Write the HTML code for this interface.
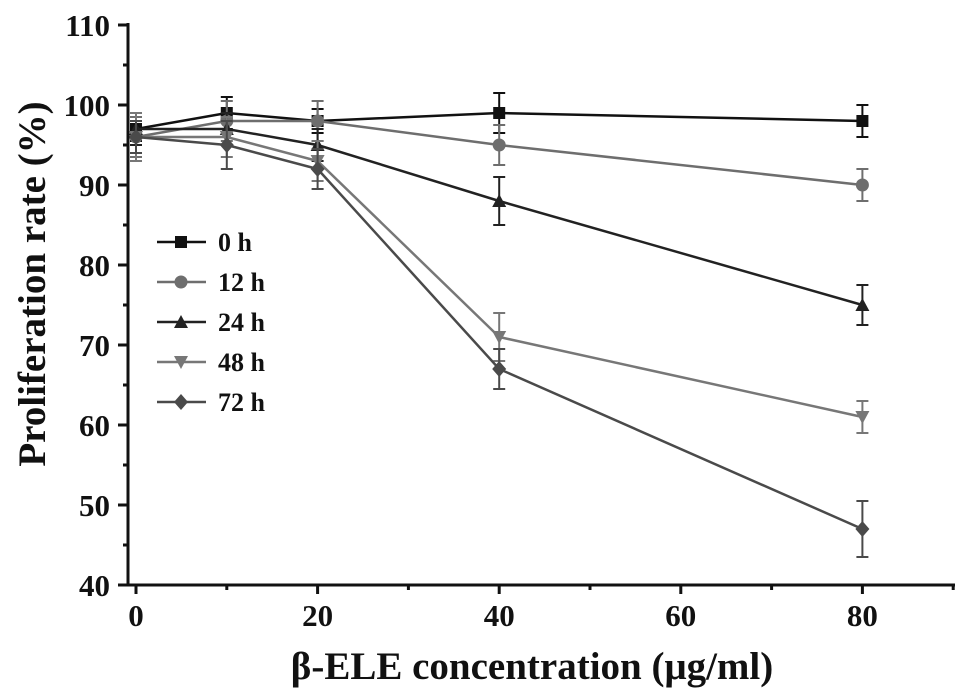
<!DOCTYPE html>
<html><head><meta charset="utf-8"><style>
body{margin:0;background:#fff;}
text{font-family:"Liberation Serif",serif;font-weight:bold;fill:#111;}
</style></head><body>
<svg id="chart" width="969" height="692" xmlns="http://www.w3.org/2000/svg"></svg>
<script>
const xValues=[0,10,20,40,80];
const seriesNames=["0 h","12 h","24 h","48 h","72 h"];
const s0=[97,99,98,99,98];
const s12=[96,98,98,95,90];
const s24=[97,97,95,88,75];
const s48=[96,96,93,71,61];
const s72=[96,95,92,67,47];
const e0=[1.5,2,1.5,2.5,2];
const e12=[2.5,2.5,2.5,2.5,2];
const e24=[2,2,2,3,2.5];
const e48=[3,2.5,2.5,3,2];
const e72=[2,3,2.5,2.5,3.5];
const xTicks=[0,20,40,60,80];
const yTicks=[40,50,60,70,80,90,100,110];
const seriesVals=[s0,s12,s24,s48,s72];
const seriesErr=[e0,e12,e24,e48,e72];
const colors=["#111","#6e6e6e","#222","#777","#4a4a4a"];
const markers=["square","circle","tri","tridown","diamond"];
const NS="http://www.w3.org/2000/svg";
const svg=document.getElementById('chart');
const X=v=>136+(v)*9.08;
const Y=v=>585-(v-40)*8;
function el(t,a,p){const e=document.createElementNS(NS,t);for(const k in a)e.setAttribute(k,a[k]);(p||svg).appendChild(e);return e;}
let ax=el('line',{x1:128,y1:585,x2:955,y2:585,stroke:'#111','stroke-width':3});


let ay=el('line',{x1:128,y1:585,x2:128,y2:23,stroke:'#111','stroke-width':3});


for(let v=0;v<=90;v+=10){const maj=v%20==0;el('line',{x1:X(v),y1:585,x2:X(v),y2:585+(maj?9:5),stroke:'#111','stroke-width':3});}
xTicks.forEach(v=>{const t=el('text',{x:X(v),y:626,'text-anchor':'middle','font-size':31});t.textContent=v;

});
for(let v=40;v<=110;v+=5){const maj=v%10==0;el('line',{x1:128,y1:Y(v),x2:128-(maj?10:5),y2:Y(v),stroke:'#111','stroke-width':3});}
yTicks.forEach(v=>{const t=el('text',{x:110,y:Y(v)+11,'text-anchor':'end','font-size':31});t.textContent=v;

});
let xt=el('text',{x:532,y:679,'text-anchor':'middle','font-size':39});xt.textContent='β-ELE concentration (μg/ml)';


let yt=el('text',{x:0,y:0,'text-anchor':'middle','font-size':39,transform:'translate(45,284) rotate(-90)'});yt.textContent='Proliferation rate (%)';


function marker(m,x,y,c,g){
 let e;
 if(m=='square')e=el('rect',{x:x-6,y:y-6,width:12,height:12,fill:c},g);
 else if(m=='circle')e=el('circle',{cx:x,cy:y,r:6.5,fill:c},g);
 else if(m=='tri')e=el('polygon',{points:`${x},${y-7} ${x-7},${y+6} ${x+7},${y+6}`,fill:c},g);
 else if(m=='tridown')e=el('polygon',{points:`${x},${y+7} ${x-7},${y-6} ${x+7},${y-6}`,fill:c},g);
 else e=el('polygon',{points:`${x},${y-8} ${x+7},${y} ${x},${y+8} ${x-7},${y}`,fill:c},g);
 return e;
}
seriesVals.forEach((vals,si)=>{
 const g=el('g',{});
 
 
 const c=colors[si];
 el('polyline',{points:vals.map((v,i)=>X(xValues[i])+','+Y(v)).join(' '),fill:'none',stroke:c,'stroke-width':2.5},g);
 vals.forEach((v,i)=>{const x=X(xValues[i]),e=seriesErr[si][i];
  el('line',{x1:x,y1:Y(v+e),x2:x,y2:Y(v-e),stroke:c,'stroke-width':2},g);
  el('line',{x1:x-6,y1:Y(v+e),x2:x+6,y2:Y(v+e),stroke:c,'stroke-width':2},g);
  el('line',{x1:x-6,y1:Y(v-e),x2:x+6,y2:Y(v-e),stroke:c,'stroke-width':2},g);
  const mk=marker(markers[si],x,Y(v),c,g);
  
  
 });
 const ly=242+si*40;
 const lg=el('g',{});
 
 
 el('line',{x1:157,y1:ly,x2:206,y2:ly,stroke:c,'stroke-width':2.5},lg);
 marker(markers[si],181,ly,c,lg);
 const t=el('text',{x:218,y:ly+9,'font-size':26},lg);t.textContent=seriesNames[si];
});
</script>
</body></html>
